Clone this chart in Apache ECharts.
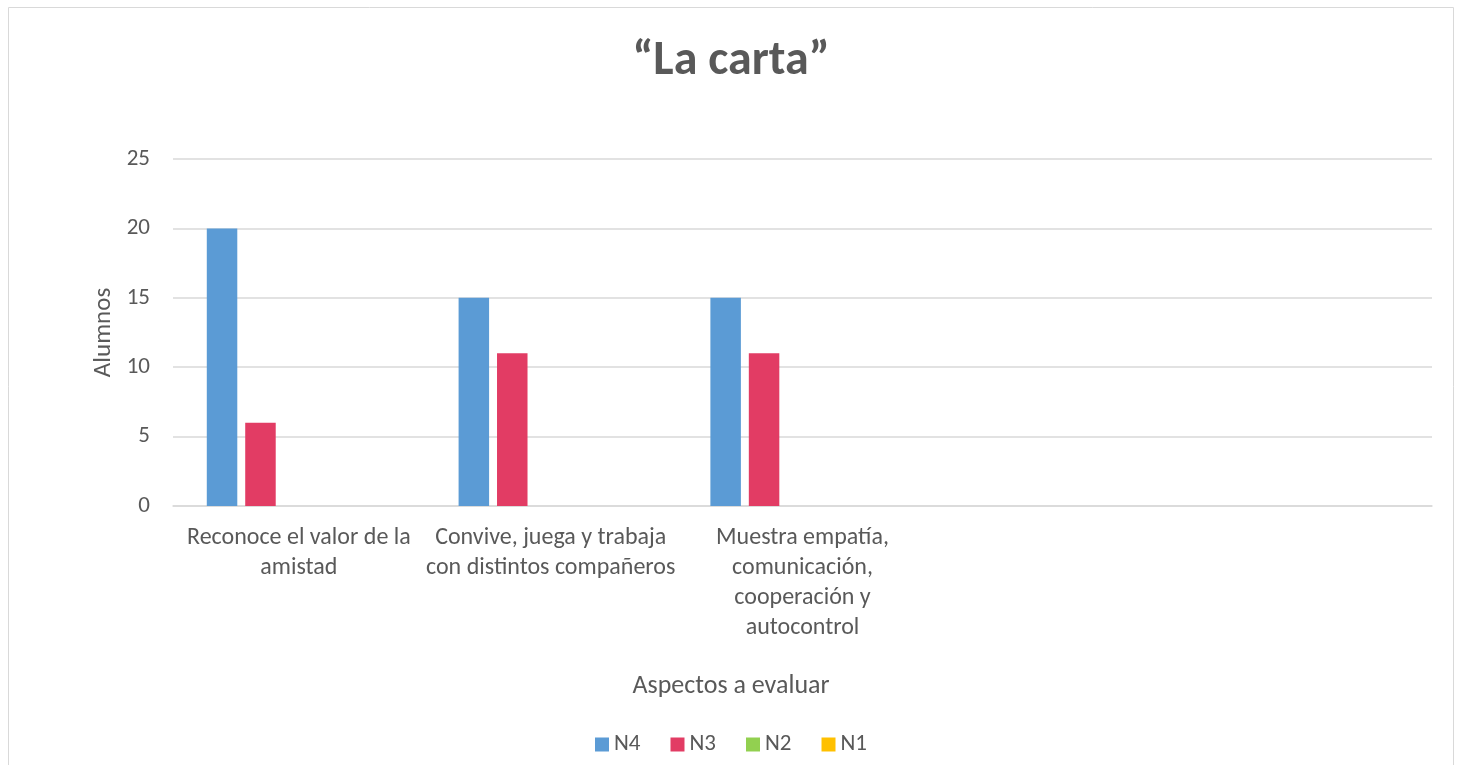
<!DOCTYPE html>
<html>
<head>
<meta charset="utf-8">
<script src="https://cdn.jsdelivr.net/npm/echarts@6/dist/echarts.min.js"></script>
<style>
  html, body { margin: 0; padding: 0; background: #ffffff; }
  #chart { width: 1462px; height: 765px; }
</style>
</head>
<body>
<div id="chart"></div>
<script>
// Aspects evaluated (the last two slots are empty on the chart)
const categories = [
  'Reconoce el valor de la\namistad',
  'Convive, juega y trabaja\ncon distintos compañeros',
  'Muestra empatía,\ncomunicación,\ncooperación y\nautocontrol',
  '',
  ''
];
// Number of students at each level
const n4 = [20, 15, 15, null, null];
const n3 = [6, 11, 11, null, null];
const n2 = [0, 0, 0, null, null];
const n1 = [0, 0, 0, null, null];
const extra = [null, null, null, null, null];
const yTicks = { min: 0, max: 25, interval: 5 };

const FONT = 'Carlito, "Open Sans", sans-serif';
const TXT = '#595959';

const chart = echarts.init(document.getElementById('chart'));

function bar(name, data, color) {
  return {
    name: name,
    type: 'bar',
    data: data,
    barWidth: 30.5,
    barGap: '26%',
    itemStyle: { color: color },
    emphasis: { disabled: true }
  };
}

chart.setOption({
  animation: false,
  textStyle: { fontFamily: FONT },
  title: {
    text: '“La carta”',
    left: 'center',
    top: 33,
    textStyle: { fontFamily: FONT, fontSize: 48, fontWeight: 'bold', color: TXT }
  },
  graphic: [{
    type: 'rect',
    shape: { x: 8.5, y: 7.5, width: 1445, height: 770 },
    style: { fill: 'none', stroke: '#d9d9d9', lineWidth: 1 },
    silent: true
  }, {
    // horizontal axis title, centred on the whole chart
    type: 'text',
    x: 731,
    y: 686,
    style: {
      text: 'Aspectos a evaluar',
      align: 'center',
      verticalAlign: 'middle',
      fontFamily: FONT,
      fontSize: 26,
      fill: TXT
    },
    silent: true
  }],
  legend: {
    data: ['N4', 'N3', 'N2', 'N1'],
    top: 728,
    left: 'center',
    itemWidth: 14,
    itemHeight: 14,
    itemGap: 30,
    icon: 'rect',
    textStyle: { fontFamily: FONT, fontSize: 23, color: TXT }
  },
  grid: { left: 173, right: 30, top: 159, bottom: 259 },
  xAxis: {
    type: 'category',
    data: categories,
    axisLine: { lineStyle: { color: '#d9d9d9', width: 1.5 } },
    axisTick: { show: false },
    axisLabel: {
      interval: 0,
      margin: 17,
      lineHeight: 30,
      fontFamily: FONT,
      fontSize: 24,
      color: TXT
    }
  },
  yAxis: {
    type: 'value',
    min: yTicks.min,
    max: yTicks.max,
    interval: yTicks.interval,
    name: 'Alumnos',
    nameLocation: 'middle',
    nameGap: 57,
    nameRotate: 90,
    nameTextStyle: { fontFamily: FONT, fontSize: 25, color: TXT },
    axisLine: { show: false },
    axisTick: { show: false },
    axisLabel: { margin: 23, fontFamily: FONT, fontSize: 23, color: TXT },
    splitLine: { lineStyle: { color: '#d9d9d9', width: 1.5 } }
  },
  series: [
    bar('N4', n4, '#5b9bd5'),
    bar('N3', n3, '#e23c64'),
    bar('N2', n2, '#92d050'),
    bar('N1', n1, '#ffc000'),
    bar('', extra, '#a5a5a5')
  ]
});
</script>
</body>
</html>
